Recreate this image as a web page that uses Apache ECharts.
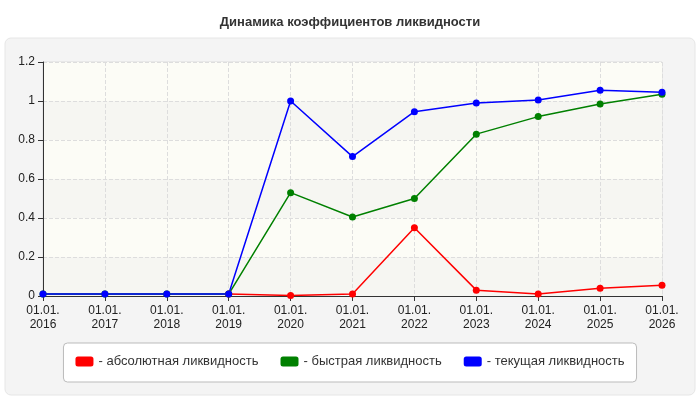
<!DOCTYPE html>
<html><head><meta charset="utf-8">
<script src="https://cdn.jsdelivr.net/npm/echarts@6/dist/echarts.min.js"></script>
<style>body{margin:0;background:#fff}#c{width:700px;height:400px}</style></head>
<body><div id="c"></div>
<script>
const categories=['01.01.\n2016','01.01.\n2017','01.01.\n2018','01.01.\n2019','01.01.\n2020','01.01.\n2021','01.01.\n2022','01.01.\n2023','01.01.\n2024','01.01.\n2025','01.01.\n2026'];
const absLiq=[null,null,null,0.01,0.003,0.01,0.35,0.03,0.01,0.04,0.055];
const quickLiq=[0.01,0.01,0.01,0.01,0.53,0.405,0.50,0.83,0.92,0.985,1.035];
const curLiq=[0.01,0.01,0.01,0.01,1.0,0.715,0.945,0.99,1.005,1.055,1.045];
const names=['абсолютная ликвидность','быстрая ликвидность','текущая ликвидность'];
const chart=echarts.init(document.getElementById('c'));
const mk=(n,d,c)=>({name:n,type:'line',data:d,symbol:'circle',symbolSize:7,itemStyle:{color:c},lineStyle:{color:c,width:1.5},animation:false});
chart.setOption({
 backgroundColor:'#fff',
 graphic:[{type:'rect',shape:{x:5,y:38,width:690,height:357,r:6},style:{fill:'#f4f4f4',stroke:'#e6e6e6'},z:-10}],
 title:{text:'Динамика коэффициентов ликвидности',left:'center',top:11,textStyle:{fontFamily:'Arial',fontSize:13,fontWeight:'bold',color:'#333'}},
 grid:{left:43,right:38,top:62,bottom:104,show:true,borderColor:'#ddd',backgroundColor:'transparent'},
 xAxis:{type:'category',data:categories,boundaryGap:false,
  axisLine:{lineStyle:{color:'#333'}},axisTick:{show:true,lineStyle:{color:'#333'}},
  axisLabel:{color:'#222',fontFamily:'Arial',fontSize:12,lineHeight:14,margin:8},
  splitLine:{show:true,lineStyle:{color:'#ddd',type:'dashed'}}},
 yAxis:{type:'value',min:0,max:1.2,interval:0.2,
  axisLine:{show:true,lineStyle:{color:'#333'}},axisTick:{show:true,lineStyle:{color:'#333'}},
  axisLabel:{color:'#222',fontFamily:'Arial',fontSize:12,formatter:v=>String(+v.toFixed(1))},
  splitLine:{lineStyle:{color:'#ddd',type:'dashed'}},
  splitArea:{show:true,areaStyle:{color:['#f6f6f2','#fcfcf6']}}},
 legend:{bottom:18,left:'center',padding:[12,12,14,12],itemGap:22,backgroundColor:'#fff',borderColor:'#bbb',borderWidth:1,borderRadius:4,
  itemWidth:18,itemHeight:10,icon:'roundRect',formatter:n=>'- '+n,
  textStyle:{fontFamily:'Arial',fontSize:13,color:'#333'},data:names.map(n=>({name:n}))},
 series:[mk(names[0],absLiq,'#ff0000'),mk(names[1],quickLiq,'#008000'),mk(names[2],curLiq,'#0000ff')]
});
</script></body></html>
